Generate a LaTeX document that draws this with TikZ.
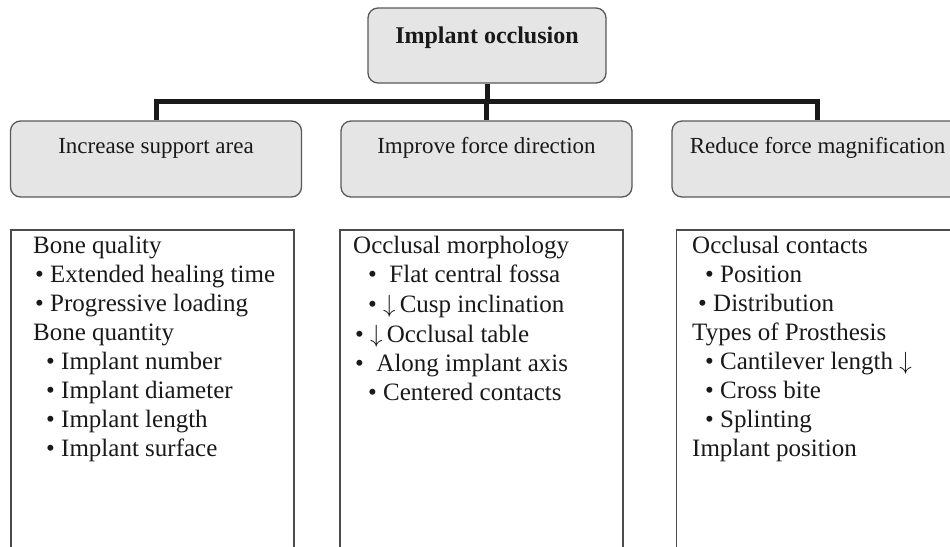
\documentclass[tikz,border=0pt]{standalone}
\usepackage{fontspec}
\setmainfont{Liberation Serif}
\newcommand{\dnarr}{$\downarrow$}
\begin{document}
\begin{tikzpicture}[x=1pt,y=-1pt,
 hdr/.style={draw=black!65, line width=1.3pt, fill=black!10, rounded corners=10pt, minimum width=291pt, minimum height=76pt, inner sep=0pt},
 topbox/.style={draw=black!65, line width=1.3pt, fill=black!10, rounded corners=10pt, minimum width=238pt, minimum height=75pt, inner sep=0pt},
 lst/.style={draw=black!70, line width=1.5pt, inner sep=0pt, minimum width=283pt, minimum height=340pt},
 conn/.style={line width=5pt, draw=black!90, line join=miter},
 ht/.style={anchor=base, inner sep=0pt, font=\fontsize{23}{27}\selectfont, text=black!90},
 tt/.style={anchor=base, inner sep=0pt, font=\fontsize{24}{28}\selectfont\bfseries, text=black!90},
 lt/.style={anchor=base west, inner sep=0pt, font=\fontsize{25}{29}\selectfont, text=black!90}]
\useasboundingbox (0,0) rectangle (950,546);
\clip (0,0) rectangle (950,546);

% top
\node[topbox] (top) at (487,45.5) {};
\node[tt] (toptxt) at (487,43) {Implant occlusion};

% headers
\node[hdr] (h1) at (156,159) {};
\node[hdr] (h2) at (486.5,159) {};
\node[hdr] (h3) at (817.5,159) {};
\node[ht] (h1t) at (156,153) {Increase support area};
\node[ht] (h2t) at (486.5,153) {Improve force direction};
\node[ht] (h3t) at (817.5,153) {Reduce force magnification};

% connectors
\coordinate (bar) at (486,101);
\draw[conn] (top.south) -- (top.south |- bar);
\draw[conn] (h1.north) -- (h1.north |- bar) -- (h3.north |- bar) -- (h3.north);
\draw[conn] (h2.north |- bar) -- (h2.north);

% list boxes
\node[lst] (b1) at (152.5,400) {};
\node[lst] (b2) at (481.5,400) {};
\node[lst] (b3) at (818,400) {};

% list 1
\node[lt] (a1) at (33,253) {Bone quality};
\node[lt] (a2) at (35,282) {• Extended healing time};
\node[lt] (a3) at (35,311) {• Progressive loading};
\node[lt] (a4) at (33,340) {Bone quantity};
\node[lt] (a5) at (46,369) {• Implant number};
\node[lt] (a6) at (46,398) {• Implant diameter};
\node[lt] (a7) at (46,427) {• Implant length};
\node[lt] (a8) at (46,456) {• Implant surface};

% list 2
\node[lt] (c1) at (353,253) {Occlusal morphology};
\node[lt] (c2) at (368,282) {•\ \ Flat central fossa};
\node[lt] (c3) at (368,312) {• \dnarr\,Cusp inclination};
\node[lt] (c4) at (355,342) {• \dnarr\,Occlusal table};
\node[lt] (c5) at (355,371) {•\ \ Along implant axis};
\node[lt] (c6) at (368,400) {• Centered contacts};

% list 3
\node[lt] (d1) at (692,253) {Occlusal contacts};
\node[lt] (d2) at (705,282) {• Position};
\node[lt] (d3) at (698,311) {• Distribution};
\node[lt] (d4) at (692,340) {Types of Prosthesis};
\node[lt] (d5) at (705,369) {• Cantilever length \dnarr};
\node[lt] (d6) at (705,398) {• Cross bite};
\node[lt] (d7) at (705,427) {• Splinting};
\node[lt] (d8) at (692,456) {Implant position};
\end{tikzpicture}
\end{document}
